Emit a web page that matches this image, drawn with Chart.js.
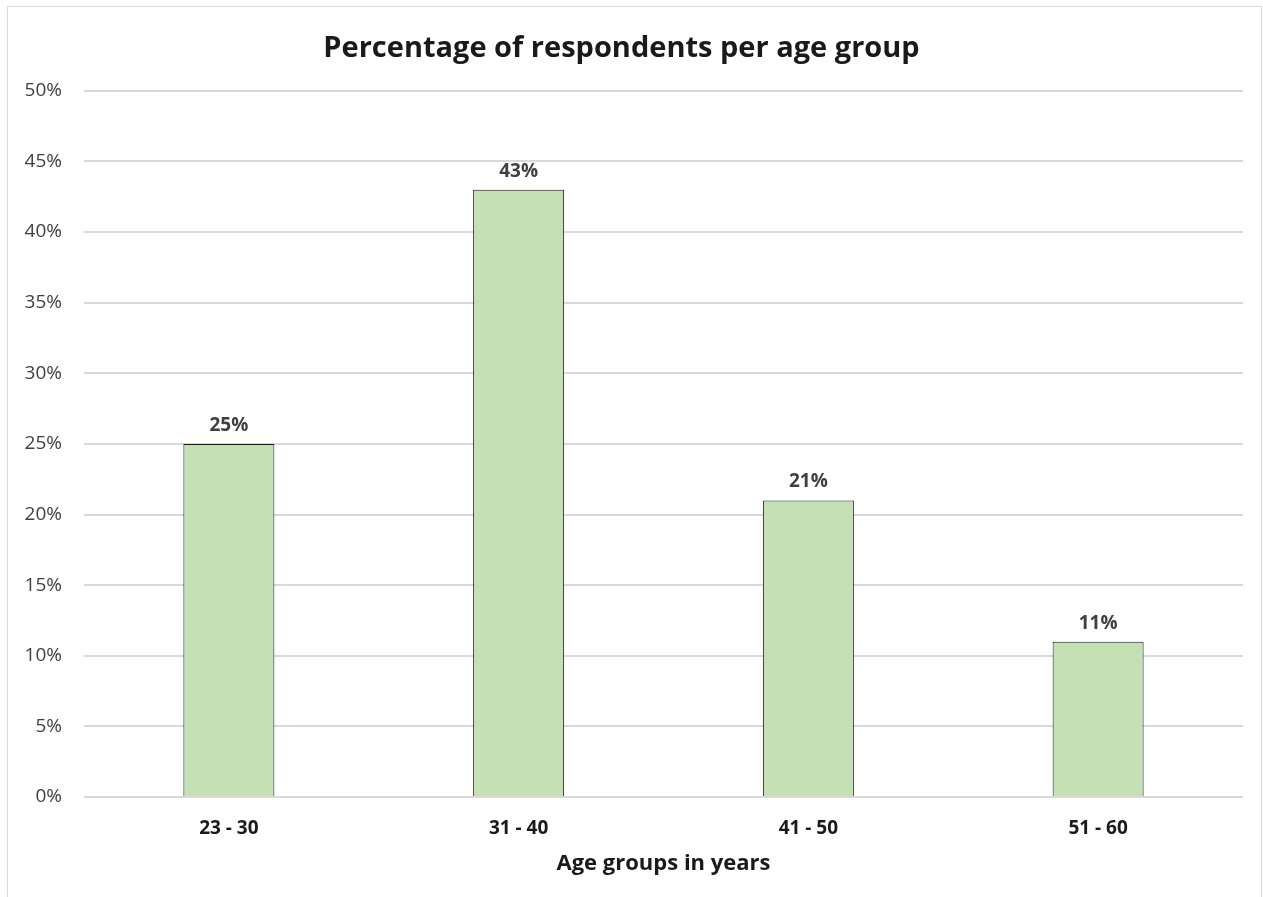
<!DOCTYPE html>
<html>
<head>
<meta charset="utf-8">
<script src="https://cdn.jsdelivr.net/npm/chart.js@4"></script>
<style>
    html, body { margin: 0; padding: 0; background: #fff; }
    #wrap { position: relative; width: 1263px; height: 897px; overflow: hidden; }
    #frame { position: absolute; left: 7px; top: 6px; width: 1253px; height: 960px; border: 1px solid #d9d9d9; }
    #chart { position: absolute; left: 0; top: 0; }
</style>
</head>
<body>
<div id="wrap">
    <div id="frame"></div>
    <canvas id="chart" width="1263" height="897"></canvas>
</div>
<script>
const ageGroups = ["23 - 30", "31 - 40", "41 - 50", "51 - 60"];
const percentages = [25, 43, 21, 11];
const FONT = "'Open Sans', sans-serif";

// draws the value labels above each bar
const valueLabels = {
    id: "valueLabels",
    afterDatasetsDraw(chart) {
        const ctx = chart.ctx;
        const meta = chart.getDatasetMeta(0);
        ctx.save();
        ctx.font = "bold 19px " + FONT;
        ctx.fillStyle = "#404040";
        ctx.textAlign = "center";
        ctx.textBaseline = "bottom";
        meta.data.forEach((bar, i) => {
            ctx.fillText(percentages[i] + "%", bar.x, bar.y - 9);
        });
        ctx.restore();
    }
};

new Chart(document.getElementById("chart"), {
    type: "bar",
    data: {
        labels: ageGroups,
        datasets: [{
            data: percentages,
            backgroundColor: "#c5e0b4",
            borderColor: "#1a1a1a",
            borderWidth: 1,
            categoryPercentage: 1,
            barPercentage: 0.314
        }]
    },
    options: {
        responsive: false,
        animation: false,
        layout: { padding: { left: 0, right: 20, top: 0, bottom: 0 } },
        plugins: {
            legend: { display: false },
            tooltip: { enabled: false },
            title: {
                display: true,
                text: "Percentage of respondents per age group",
                color: "#1a1a1a",
                font: { family: FONT, size: 29, weight: "bold" },
                padding: { top: 31, bottom: 25 }
            }
        },
        scales: {
            x: {
                grid: { display: false, drawTicks: false },
                border: { display: false },
                ticks: {
                    color: "#1a1a1a",
                    font: { family: FONT, size: 19, weight: "bold" },
                    padding: 20
                },
                title: {
                    display: true,
                    text: "Age groups in years",
                    color: "#1a1a1a",
                    font: { family: FONT, size: 22, weight: "bold" },
                    padding: { top: 0, bottom: 20 }
                },
                afterFit(scale) { scale.height = 100; }
            },
            y: {
                min: 0,
                max: 50,
                grid: { color: "#d9d9d9", lineWidth: 2, drawTicks: false },
                border: { display: false },
                ticks: {
                    stepSize: 5,
                    color: "#404040",
                    font: { family: FONT, size: 19 },
                    padding: 22,
                    callback: v => v + "%"
                },
                afterFit(scale) { scale.width = 84; }
            }
        }
    },
    plugins: [valueLabels]
});
</script>
</body>
</html>
